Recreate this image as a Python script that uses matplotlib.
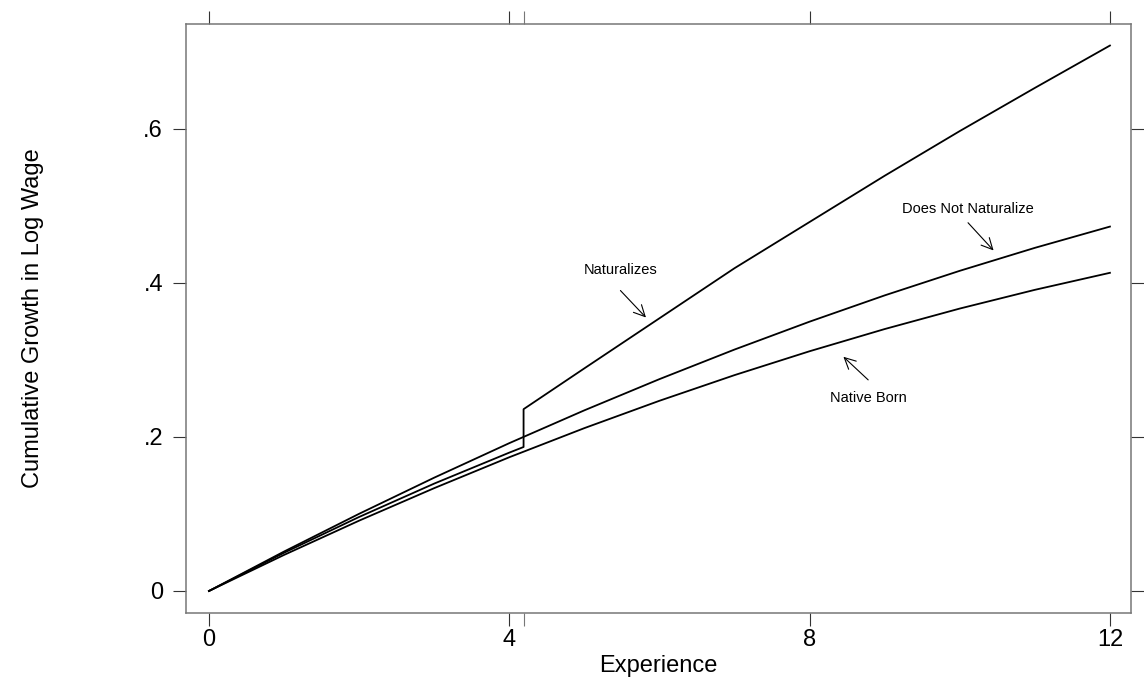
import numpy as np
import matplotlib.pyplot as plt

plt.rcParams['font.family'] = ['Liberation Sans', 'DejaVu Sans']

# ---- data ----
exp_grid = [0, 1, 2, 3, 4, 5, 6, 7, 8, 9, 10, 11, 12]
native_born = [0, 0.0468, 0.0913, 0.1335, 0.1736, 0.2114, 0.2469, 0.2802,
               0.3112, 0.3400, 0.3666, 0.3909, 0.413]
not_naturalize = [0, 0.0512, 0.1002, 0.1471, 0.1919, 0.2345, 0.2750, 0.3134,
                  0.3496, 0.3837, 0.4156, 0.4454, 0.473]

# naturalizes: jump at time of naturalization
nat_time = 4.19
nat_exp = [0, 1, 2, 3, 4, 4.19, 4.19, 5, 6, 7, 8, 9, 10, 11, 12]
naturalizes = [0, 0.0496, 0.0961, 0.1394, 0.1796, 0.1869, 0.236, 0.289, 0.354,
               0.419, 0.479, 0.539, 0.597, 0.653, 0.708]

x_ticks = [0, 4, 8, 12]
y_ticks = [0, 0.2, 0.4, 0.6]
y_tick_labels = ['0', '.2', '.4', '.6']

fig = plt.figure(figsize=(11.44, 6.87), dpi=100)
ax = fig.add_axes([0.1626, 0.1077, 0.8260, 0.8574])

lw = 1.3
ax.plot(exp_grid, native_born, color='black', lw=lw)
ax.plot(exp_grid, not_naturalize, color='black', lw=lw)
ax.plot(nat_exp, naturalizes, color='black', lw=lw)

ax.set_xlim(-0.306, 12.28)
ax.set_ylim(-0.0286, 0.736)

ax.set_xticks(x_ticks)
ax.set_xticks([nat_time], minor=True)
ax.set_yticks(y_ticks)
ax.set_yticklabels(y_tick_labels)
ax.tick_params(axis='both', which='both', direction='out', length=9.5, width=0.8,
               color='#333333', labelsize=17, top=True, right=True, pad=2)
ax.tick_params(axis='y', pad=7)
ax.tick_params(which='minor', color='#777777')

for sp in ax.spines.values():
    sp.set_color('#777777')
    sp.set_linewidth(1.1)

ax.set_xlabel('Experience', fontsize=17)
ax.set_ylabel('Cumulative Growth in Log Wage', fontsize=17)
ax.xaxis.set_label_coords(0.5, -0.071)
ax.yaxis.set_label_coords(-0.150, 0.5)

arrow = dict(arrowstyle='->', color='black', lw=0.8, mutation_scale=20,
             shrinkA=0, shrinkB=0)
ax.annotate('Naturalizes', xy=(5.82, 0.355), xytext=(5.48, 0.417),
            textcoords='data', fontsize=10.5, ha='center', va='center')
ax.annotate('', xy=(5.82, 0.355), xytext=(5.48, 0.39), arrowprops=arrow)
ax.annotate('Does Not Naturalize', xy=(10.45, 0.442), xytext=(10.11, 0.496),
            fontsize=10.5, ha='center', va='center')
ax.annotate('', xy=(10.45, 0.442), xytext=(10.11, 0.478), arrowprops=arrow)
ax.annotate('Native Born', xy=(8.45, 0.304), xytext=(8.78, 0.251),
            fontsize=10.5, ha='center', va='center')
ax.annotate('', xy=(8.45, 0.304), xytext=(8.78, 0.274), arrowprops=arrow)

fig.savefig('out.png', dpi=100)
